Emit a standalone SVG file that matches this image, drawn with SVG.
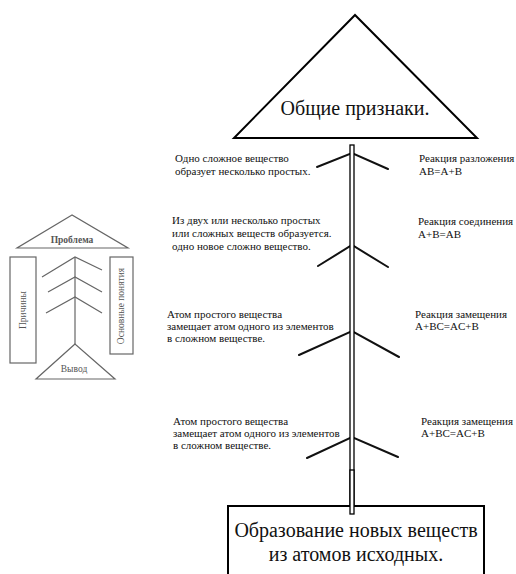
<svg xmlns="http://www.w3.org/2000/svg" width="516" height="574" viewBox="0 0 516 574">
<style>
.main{fill:#fff;stroke:#000;stroke-width:2}
.br{stroke:#111;stroke-width:2;fill:none;stroke-linecap:round}
.t{font-family:'Liberation Serif','DejaVu Serif',serif;font-size:11px;fill:#111}
.big{font-family:'Liberation Serif','DejaVu Serif',serif;font-size:20px;fill:#111;text-anchor:middle}
.sm{fill:#fff;stroke:#666;stroke-width:1.2}
.sl{stroke:#666;stroke-width:1.2;fill:none}
.st{font-family:'Liberation Serif','DejaVu Serif',serif;font-size:9.5px;fill:#555;text-anchor:middle}
</style>
<rect width="516" height="574" fill="#fff"/>

<g id="mini">
  <polygon class="sm" points="72,215 17,248 128,248"/>
  <text class="st" x="72" y="243" font-weight="bold">Проблема</text>
  <rect class="sm" x="10" y="257" width="26" height="106"/>
  <text class="st" transform="translate(26,310) rotate(-90)">Причины</text>
  <rect class="sm" x="110" y="257" width="23" height="97"/>
  <text class="st" transform="translate(124,306) rotate(-90)">Основные понятия</text>
  <line class="sl" x1="75" y1="257" x2="75" y2="344"/>
  <polyline class="sl" points="42,277 75,257 102,270"/>
  <polyline class="sl" points="48,292 75,277 102,292"/>
  <polyline class="sl" points="46,313 75,297 102,313"/>
  <polygon class="sm" points="75,344 36,379 115,379"/>
  <text class="st" x="74" y="372">Вывод</text>
</g>

<g id="connectors">
  <polyline class="br" points="317,167 352,153 388,169"/>
  <polyline class="br" points="318,266 352,245 388,267"/>
  <polyline class="br" points="299,355 352,331 399,357"/>
  <polyline class="br" points="307,458 352,437 398,457"/>
  <rect x="350" y="145" width="4" height="369" fill="#fff" stroke="#000" stroke-width="1.3"/>
</g>

<g id="top">
  <polygon class="main" points="355,15 234,138 477,138"/>
  <text class="big" x="355" y="115">Общие признаки.</text>
</g>

<g id="bottom">
  <path class="main" d="M228,580 V506 H484 V580"/>
  <rect x="350" y="470" width="4" height="44" fill="#fff" stroke="#000" stroke-width="1.3"/>
  <text class="big" x="356" y="537">Образование новых веществ</text>
  <text class="big" x="356" y="561">из атомов исходных.</text>
</g>

<g id="labels">
  <text class="t" x="175" y="162">Одно сложное вещество</text>
  <text class="t" x="175" y="175">образует несколько простых.</text>
  <text class="t" x="419" y="162">Реакция разложения</text>
  <text class="t" x="419" y="175">AB=A+B</text>

  <text class="t" x="172" y="224">Из двух или несколько простых</text>
  <text class="t" x="172" y="237">или сложных веществ образуется.</text>
  <text class="t" x="172" y="250">одно новое сложно вещество.</text>
  <text class="t" x="418" y="225">Реакция соединения</text>
  <text class="t" x="418" y="238"> A+B=AB</text>

  <text class="t" x="167" y="318">Атом простого вещества</text>
  <text class="t" x="167" y="330">замещает атом одного из элементов</text>
  <text class="t" x="167" y="342">в сложном веществе.</text>
  <text class="t" x="415" y="318">Реакция замещения</text>
  <text class="t" x="415" y="330"> A+BC=AC+B</text>

  <text class="t" x="173" y="425">Атом простого вещества</text>
  <text class="t" x="173" y="437">замещает атом одного из элементов</text>
  <text class="t" x="173" y="449">в сложном веществе.</text>
  <text class="t" x="421" y="425">Реакция замещения</text>
  <text class="t" x="421" y="437"> A+BC=AC+B</text>
</g>
</svg>
